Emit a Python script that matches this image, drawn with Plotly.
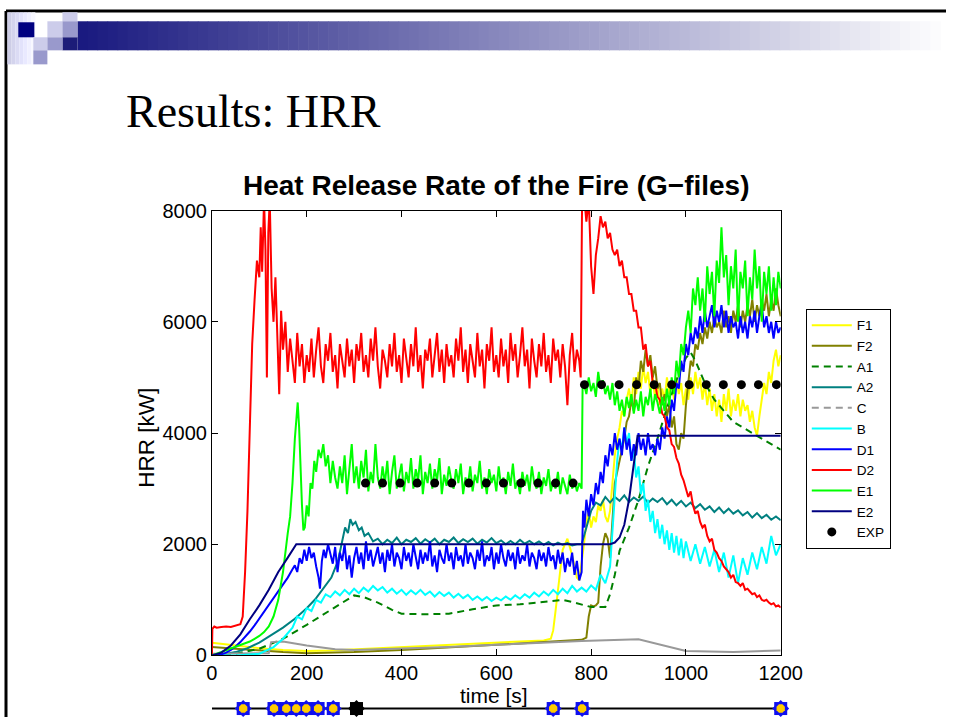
import plotly.graph_objects as go

# ---------------- data ----------------
X_TICKS = [0, 200, 400, 600, 800, 1000, 1200]
Y_TICKS = [0, 2000, 4000, 6000, 8000]

# D2 (red)
D2_T = [0, 1, 5, 10, 20, 30, 40, 50, 60, 65, 70, 75, 80, 85, 90, 95, 100, 103, 106, 110,
        113, 116, 119, 122, 126, 130, 134, 138, 142, 146, 150, 155, 160, 165, 170, 175, 180, 185, 190, 195] \
    + list(range(200, 780, 5)) + [778, 781, 785, 790, 795] + list(range(800, 1205, 5))
D2_V = [0, 480, 520, 500, 510, 520, 510, 540, 560, 700, 1500, 2600, 4200, 5600, 6400, 7100, 6800, 7700, 6900, 8200,
        7300, 5000, 7600, 8200, 6600, 6000, 6800, 5600, 4700, 6200, 5500, 6000, 5100, 5700, 5300, 4900, 5800, 5200, 5600, 4900,
        5400, 5100, 5700, 5000, 5500, 5900, 5200, 4900, 5600, 5300,
        5800, 5100, 5400, 4800, 5600, 5300, 5000, 5700, 5200, 5500,
        4900, 5600, 5300, 5800, 5100, 5400, 5000, 5700, 5300, 5900,
        5200, 4800, 5500, 5300, 5000, 5600, 5200, 5800, 5100, 5400,
        4900, 5700, 5300, 5000, 5600, 5200, 5900, 5100, 5400, 4800,
        5500, 5300, 5700, 5000, 5400, 5800, 5100, 5500, 4900, 5600,
        5200, 5400, 5000, 5700, 5300, 5900, 5100, 5500, 4900, 5600,
        5300, 5000, 5800, 5200, 5500, 4800, 5600, 5300, 5900, 5100,
        5400, 5000, 5700, 5200, 5500, 4900, 5800, 5300, 5600, 5000,
        5400, 5900, 5200, 5500, 4800, 5700, 5300, 5000, 5600, 5200,
        5800, 5100, 5400, 4900, 5700, 5300, 5500, 5000, 5600, 5200,
        4500, 5400, 5800, 5100, 5500, 5300,
        5000, 8200, 8300, 7800, 8200,
        7000,
        6500, 7200, 7500, 7900, 7700, 7800, 7500, 7600, 7300, 7200,
        7300, 7000, 7100, 6800, 6800, 6500, 6500, 6200, 6200, 5900,
        5900, 5500, 5600, 5200, 5300, 4900, 4900, 4650, 4600, 4350,
        4300, 4100, 4050, 3800, 3750, 3550, 3450, 3250, 3150, 3000,
        2850, 2950, 2700, 2550, 2600, 2400, 2300, 2350, 2150, 2050,
        2100, 1900, 1850, 1750, 1700, 1600, 1550, 1500, 1400, 1450,
        1320, 1300, 1250, 1300, 1180, 1200, 1150, 1100, 1120, 1050,
        1080, 1000, 980, 1000, 950, 920, 940, 880, 900, 860]

# E1 (light green)
E1_T = [0, 10, 20, 30, 40, 50, 60, 70, 80, 90, 100, 110, 120, 130, 140, 150, 155, 160, 165, 170, 175,
        178, 181, 184, 187, 190, 193, 196, 200, 204, 208, 212, 216, 220, 225, 230, 235, 240, 245, 250, 255, 260] \
    + list(range(265, 780, 5)) + [780, 782] + list(range(785, 1205, 5))
E1_V = [0, 30, 60, 90, 120, 150, 180, 210, 250, 300, 350, 420, 520, 700, 1000, 1500, 1900, 2200, 2500, 3100, 3900,
        4300, 4550, 4100, 3300, 2700, 2250, 2300, 2700, 2500, 3100, 3000, 3500, 3300, 3700, 3550, 3800, 3400, 3600, 3100, 3500, 3200,
        3000, 3400, 3100, 3600, 2900, 3300, 3800, 3100, 3400, 3000,
        3500, 3200, 3700, 2950, 3300, 3100, 3800, 3200, 3000, 3400,
        3100, 3500, 2900, 3300, 3600, 3000, 3250, 3450, 2950, 3300,
        3100, 3550, 3000, 3350, 3150, 3600, 2900, 3300, 3100, 3450,
        3000, 3350, 3150, 3550, 2900, 3250, 3050, 3400, 3150, 3000,
        3350, 3100, 3450, 2900, 3200, 3050, 3400, 2950, 3250, 3100,
        3500, 3000, 3200, 2900, 3350, 3100, 3250, 2950, 3400, 3050,
        3200, 2900, 3300, 3050, 3450, 3000, 3150, 2900, 3300, 3050,
        3250, 2950, 3400, 3100, 3000, 3300, 2900, 3200, 3050, 3350,
        2950, 3150, 3000, 3300, 2900, 3200, 3050, 2900, 3250, 3000,
        3150, 2950, 3100,
        3000, 4800,
        4900, 4700, 5000, 4750, 4900, 4650, 5100, 4800, 4950, 4700,
        4850, 4600, 4900, 4500, 4750, 4400, 4600, 4300, 4650, 4450,
        4700, 4350, 4600, 4400, 4750, 4300, 4650, 4500, 4800, 4400,
        4700, 4550, 4350, 4650, 4400, 4800, 4500, 5000, 4700, 5300,
        5000, 5600, 5400, 5900, 6200, 5800, 6600, 6300, 6800, 6200,
        6600, 6000, 7000, 6500, 6900, 6100, 7100, 6700, 7700, 6800,
        7200, 6300, 7000, 6600, 7300, 6000, 6900, 6600, 7100, 6100,
        6800, 6400, 7300, 6600, 7000, 6000, 6900, 6500, 7000, 6200,
        6800, 6300, 6900, 6600]

# D1 (blue)
D1_T = [0, 10, 20, 30, 40, 50, 60, 70, 80, 90, 100, 110, 120, 130, 140, 150, 160, 170,
        175, 180, 185, 190, 195, 200, 205, 210, 215, 220, 225, 228, 232, 236, 240, 245, 250] \
    + list(range(255, 780, 5)) + [780, 783, 786, 790, 795] + list(range(800, 1205, 5))
D1_V = [0, 0, 20, 50, 100, 160, 240, 330, 430, 540, 660, 780, 900, 1020, 1150, 1280, 1400, 1550,
        1620, 1500, 1750, 1650, 1900, 1700, 1950, 1750, 1850, 1600, 1400, 1200, 1700, 1900, 1750, 2000, 1800,
        1650, 1950, 1500, 1850, 1700, 2000, 1550, 1800, 1400, 1750,
        1950, 1650, 1850, 1550, 2050, 1700, 1900, 1600, 1800, 1950,
        1650, 1850, 1500, 1900, 1700, 2000, 1600, 1850, 1750, 1550,
        1950, 1700, 1850, 1600, 2000, 1750, 1550, 1900, 1650, 1850,
        1700, 2050, 1600, 1800, 1500, 1900, 1750, 1650, 2000, 1700,
        1850, 1550, 1950, 1700, 1800, 1600, 2000, 1650, 1850, 1750,
        1550, 1900, 1700, 2050, 1600, 1800, 1700, 1950, 1550, 1850,
        1650, 2000, 1750, 1600, 1900, 1700, 1850, 1550, 1950, 1650,
        1800, 1700, 2000, 1600, 1850, 1750, 1550, 1900, 1700, 1850,
        1600, 1950, 1700, 1800, 1550, 1900, 1650, 1850, 1500, 1750,
        1600, 1850, 1450, 1700, 1350,
        1500, 2600, 2300, 2800, 2500,
        2900,
        2700, 3100, 2900, 3300, 3100, 3600, 3400, 3800, 3600, 4000,
        3700, 3900, 3600, 4100, 3700, 3900, 3500, 3800, 3600, 4000,
        3700, 3900, 3600, 4000, 3700, 3800, 3600, 3900, 3700, 4100,
        3900, 4300, 4100, 4600, 4400, 4900, 4800, 5300, 5100, 5600,
        5400, 5800, 5600, 5900, 5700, 6100, 5800, 6200, 5900, 6100,
        6300, 5900, 6200, 6000, 6300, 5900, 6200, 5800, 6100, 5900,
        6000, 5700, 6100, 5800, 6000, 5700, 6100, 5900, 6200, 5800,
        6100, 6300, 5900, 6100, 5800, 6000, 5700, 6000, 5800, 5900]

# F1 (yellow)
F1_T = [0, 50, 100, 150, 200, 250, 300, 400, 500, 600, 700,
        715, 720, 725, 730, 735, 740, 745, 750, 755, 760, 765, 770, 775] + list(range(780, 1205, 5))
F1_V = [230, 180, 130, 100, 80, 90, 110, 150, 190, 230, 270,
        300, 450, 800, 1200, 1600, 1900, 2000, 2100, 1950, 1800, 1600, 1400, 1350,
        1650,
        2000, 2400, 2600, 2300, 2500, 2400, 2700, 2600, 2800, 2500,
        2400, 2600, 3100, 3600, 3900, 4100, 4400, 4300, 4600, 4800,
        4500, 5000, 4700, 5100, 4800, 5200, 4900, 5100, 4700, 5000,
        4600, 4900, 4500, 4800, 4600, 5000, 4700, 4900, 4600, 5000,
        4700, 4900, 4500, 4800, 4600, 5000, 4700, 5100, 4800, 5000,
        4600, 4900, 4500, 4800, 4400, 4700, 4300, 4600, 4200, 4700,
        4400, 4800, 4300, 4600, 4400, 4700, 4300, 4600, 4400, 4500,
        4200, 4400, 4100, 3950, 4300, 4600, 4900, 4700, 5100, 4900,
        5300, 5500, 5200, 5400]

# F2 (olive)
F2_T = [0, 50, 100, 150, 200, 250, 300, 400, 500, 600, 700, 780, 790] + list(range(795, 1205, 5))
F2_V = [150, 120, 80, 60, 40, 50, 60, 100, 140, 190, 240, 280, 320,
        700, 900, 880, 900, 950, 1600, 2000, 2200, 2100, 1750,
        2500, 3100, 3300, 3500, 3700, 3900, 4200, 4300, 4600, 4400,
        5000, 4800, 5300, 5100, 5500, 5200, 5400, 5000, 5200, 4800,
        4900, 4500, 4700, 4300, 4500, 4100, 4300, 3800, 3700, 4000,
        3900, 4500, 4900, 5300, 5200, 5600, 5500, 5800, 5600, 5900,
        5700, 6000, 5800, 6100, 5900, 6000, 5800, 6200, 5900, 6100,
        5800, 6200, 6000, 6300, 5900, 6200, 6000, 6300, 6100, 6400,
        6000, 6300, 6100, 6400, 6200, 6500, 6100, 6400, 6200, 6600,
        6300, 6100]

# A1 (dark green, dashed)
A1_T = [0, 50, 100, 150, 200, 250, 280, 300, 320, 350, 380, 400, 450, 500, 550, 600, 650, 700, 740, 760,
        780, 800, 830, 840, 850, 860, 880, 900, 920, 940, 960, 980, 1000, 1010, 1020, 1040, 1060, 1080, 1100, 1120,
        1140, 1160, 1180, 1200]
A1_V = [0, 30, 120, 300, 550, 820, 980, 1080, 1050, 950, 820, 750, 740, 750, 830, 900, 920, 970, 1000, 960,
        920, 870, 870, 1100, 1450, 1880, 2300, 2800, 3400, 3900, 4450, 4950, 5350, 5450, 5300, 4900, 4600, 4400, 4200, 4100,
        4000, 3900, 3800, 3700]

# A2 (teal)
A2_T = [0, 25, 50, 75, 100, 125, 150, 175, 200, 218, 235, 252, 266, 275, 281, 287, 292, 297, 303,
        310, 316, 322, 330, 340] + list(range(350, 1205, 10))
A2_V = [0, 20, 60, 130, 230, 360, 500, 660, 850, 1010, 1200, 1400, 1700, 2050, 2300, 2200, 2450, 2350, 2400,
        2250, 2300, 2150, 2200, 2050,
        2100, 2000, 2080, 2020, 2120, 2000, 2080, 2040, 2110, 2010,
        2090, 2030, 2100, 2000, 2080, 2040, 2120, 2020, 2090, 2040,
        2100, 2010, 2080, 2030, 2110, 2020, 2070, 2000, 2060, 2000,
        2080, 2010, 2060, 2000, 2050, 1990, 2040, 1980, 2030, 1990,
        2020, 1980, 2000, 2000, 2300, 2600, 2750, 2700, 2850, 2750,
        2850, 2780, 2880, 2760, 2840, 2780, 2860, 2740, 2820, 2760,
        2830, 2720, 2800, 2700, 2780, 2680, 2750, 2650, 2720, 2620,
        2680, 2580, 2660, 2560, 2640, 2550, 2610, 2520, 2580, 2480,
        2560, 2470, 2530, 2440, 2500, 2430]

# C (gray)
C_T = [0, 50, 100, 120, 125, 150, 200, 260, 300, 400, 500, 600, 700, 780, 900, 1000, 1100, 1200]
C_V = [30, 30, 30, 40, 240, 250, 180, 110, 100, 120, 150, 190, 230, 260, 290, 80, 60, 90]

# B (cyan)
B_T = [0, 50, 100, 130, 150, 170, 180] + list(range(190, 850, 10)) + list(range(845, 1005, 5)) \
    + list(range(1010, 1205, 10))
B_V = [0, 0, 30, 150, 300, 500, 700,
       650, 850, 800, 1000, 950, 1100, 1050, 1150, 1080, 1180,
       1100, 1200, 1120, 1220, 1150, 1250, 1170, 1230, 1130, 1200,
       1110, 1180, 1090, 1170, 1100, 1180, 1090, 1150, 1060, 1140,
       1070, 1130, 1040, 1110, 1030, 1090, 1000, 1060, 990, 1050,
       980, 1040, 990, 1060, 1000, 1080, 1020, 1100, 1040, 1130,
       1060, 1150, 1080, 1180, 1100, 1200, 1120, 1250, 1150, 1220,
       1150, 1260, 1180, 1450, 1300, 1600,
       2200, 2800, 3500, 3900, 3700, 4100, 3800, 4000, 3500, 3700,
       3200, 3400, 2900, 3100, 2600, 2800, 2400, 2600, 2200, 2450,
       2100, 2350, 2000, 2250, 1900, 2200, 1850, 2150, 1800, 2100,
       1750, 2050,
       1700, 2000, 1650, 1950, 1600, 1900, 1500, 1850, 1400, 1800,
       1300, 1750, 1450, 1850, 1550, 1950, 1650, 2150, 1800, 2000]

# E2 (navy)
E2_T = [0, 20, 40, 60, 80, 100, 120, 140, 160, 178, 840, 850, 860, 870, 880, 890, 898, 1200]
E2_V = [0, 50, 180, 380, 650, 900, 1180, 1500, 1760, 2000, 2000, 2030, 2120, 2350, 2800, 3450, 3950, 3950]

# EXP (black dots)
EXP_T = [324, 360, 397, 433, 470, 506, 542, 579, 615, 652, 688, 725, 762,
         786, 822, 859, 896, 933, 970, 1007, 1043, 1079, 1117, 1153, 1191]
EXP_V = [3100, 3100, 3100, 3100, 3100, 3100, 3100, 3100, 3100, 3100, 3100, 3100, 3100,
         4870, 4870, 4870, 4870, 4870, 4870, 4870, 4870, 4870, 4870, 4870, 4870]

# timeline events
EVENT_T = [66, 131, 157, 178, 199, 224, 256, 720, 781, 1200]
BLACK_EVENT_T = [305]

# ---------------- figure ----------------
# empirical page -> picture mapping: picture = S * (figure + M) + C
S, M, CX, CY = 0.968, 8, 1.0, 2.0
W, H = 968, 728
FONT = "Liberation Sans, Arial, Helvetica, sans-serif"


def PX(p):  # target picture x pixel -> paper fraction
    return ((p - CX) / S - M) / W


def PY(p):  # target picture y pixel -> paper fraction
    return 1 - ((p - CY) / S - M) / H


X0, X1 = 214, 781
YT, YB = 209, 653


def pair(t, v):
    n = min(len(t), len(v))
    return t[:n], v[:n]


fig = go.Figure()


def add_line(name, t, v, color, dash=None, show=True):
    t, v = pair(t, v)
    fig.add_trace(go.Scatter(x=t, y=v, mode="lines", name=name, showlegend=show,
                             line=dict(color=color, width=2, dash=dash)))


add_line("F1", F1_T, F1_V, "#ffff00")
add_line("F2", F2_T, F2_V, "#808000")
add_line("A1", A1_T, A1_V, "#008000", dash="7px,5px")
add_line("A2", A2_T, A2_V, "#008080")
fig.add_trace(go.Scatter(x=[None], y=[None], mode="lines", name="C",
                         line=dict(color="#999999", width=2, dash="7px,5px")))
add_line("C", C_T, C_V, "#999999", show=False)
add_line("B", B_T, B_V, "#00ffff")
add_line("D1", D1_T, D1_V, "#0000ff")
add_line("D2", D2_T, D2_V, "#ff0000")
add_line("E1", E1_T, E1_V, "#00ff00")
add_line("E2", E2_T, E2_V, "#000080")
fig.add_trace(go.Scatter(x=EXP_T, y=EXP_V, mode="markers", name="EXP",
                         marker=dict(color="black", size=9)))

# timeline
fig.add_trace(go.Scatter(x=[0, 1200], y=[0, 0], mode="lines", xaxis="x2", yaxis="y2",
                         showlegend=False, line=dict(color="black", width=2), cliponaxis=False))
ev_y = [0 for _ in EVENT_T]
for sym in ["square", "diamond"]:
    fig.add_trace(go.Scatter(x=EVENT_T, y=ev_y, mode="markers", xaxis="x2", yaxis="y2",
                             showlegend=False, cliponaxis=False,
                             marker=dict(symbol=sym, size=13, color="#1010ee", line=dict(width=0))))
fig.add_trace(go.Scatter(x=EVENT_T, y=ev_y, mode="markers", xaxis="x2", yaxis="y2",
                         showlegend=False, cliponaxis=False,
                         marker=dict(symbol="octagon", size=9, color="#ffcc00", line=dict(width=0))))
bk_y = [0 for _ in BLACK_EVENT_T]
for sym in ["square", "diamond"]:
    fig.add_trace(go.Scatter(x=BLACK_EVENT_T, y=bk_y, mode="markers", xaxis="x2", yaxis="y2",
                             showlegend=False, cliponaxis=False,
                             marker=dict(symbol=sym, size=13, color="black", line=dict(width=0))))

axis_common = dict(showline=True, linecolor="black", linewidth=1, mirror="allticks",
                   ticks="inside", ticklen=6, tickcolor="black", showgrid=False, zeroline=False,
                   tickfont=dict(family=FONT, size=20, color="black"))

shapes = []
# slide border (top and left)
shapes.append(dict(type="line", xref="paper", yref="paper", x0=0, x1=1, y0=1, y1=1,
                   line=dict(color="black", width=3)))
shapes.append(dict(type="line", xref="paper", yref="paper", x0=0, x1=0, y0=1, y1=0,
                   line=dict(color="black", width=3)))


def rect(x0, y0, x1, y1, color):
    shapes.append(dict(type="rect", xref="paper", yref="paper", x0=max(0, PX(x0)), x1=PX(x1),
                       y0=PY(y1), y1=min(1, PY(y0)), fillcolor=color, line=dict(width=0), layer="above"))


# left faint gradient
for i in range(7):
    f = i / 7
    c = int(205 + (255 - 205) * f)
    rect(10 + 4 * i, 11, 14 + 4 * i, 63, f"rgb({c},{c},{min(255, c + 25)})")

# gradient bar
x = 80
step = 10
while x < 940:
    f = (x - 80) / (940 - 80)
    r = int(26 + (255 - 26) * f)
    b = int(128 + (255 - 128) * f)
    rect(x, 20, x + step + 0.6, 49, f"rgb({r},{r},{b})")
    x += step

LAV = "#ccccea"
MED = "#9999cc"
rect(21, 21, 37, 36, "#000080")
rect(65, 11, 80, 20, LAV)
rect(50, 20, 65, 36, LAV)
rect(65, 20, 80, 36, MED)
rect(65, 36, 80, 49, "#1c1c78")
rect(36, 36, 50, 49, LAV)
rect(50, 36, 65, 49, MED)
rect(36, 49, 50, 63, MED)

annotations = [
    dict(text="Results: HRR", xref="paper", yref="paper", x=PX(126), y=PY(110),
         xanchor="left", yanchor="middle", showarrow=False,
         font=dict(family="Liberation Serif, Times New Roman, serif", size=46, color="black")),
    dict(text="Heat Release Rate of the Fire (G\u2212files)", xref="paper", yref="paper",
         x=PX(498), y=PY(184), xanchor="center", yanchor="middle", showarrow=False,
         font=dict(family=FONT, size=28, color="black", weight="bold")),
    dict(text="HRR [kW]", xref="paper", yref="paper", x=PX(148), y=PY(436), textangle=-90,
         xanchor="center", yanchor="middle", showarrow=False,
         font=dict(family=FONT, size=22.5, color="black")),
    dict(text="time [s]", xref="paper", yref="paper", x=PX(495), y=PY(693),
         xanchor="center", yanchor="middle", showarrow=False,
         font=dict(family=FONT, size=21, color="black")),
]

fig.update_layout(
    width=W, height=H, margin=dict(l=0, r=0, t=0, b=0),
    paper_bgcolor="white", plot_bgcolor="white",
    xaxis=dict(domain=[PX(X0), PX(X1)], range=[0, 1200], tickvals=X_TICKS, anchor="y", **axis_common),
    yaxis=dict(domain=[PY(YB), PY(YT)], range=[0, 8000], tickvals=Y_TICKS, anchor="x", **axis_common),
    xaxis2=dict(domain=[PX(X0), PX(X1)], range=[0, 1200], visible=False, anchor="y2"),
    yaxis2=dict(domain=[PY(714), PY(698)], range=[-1, 1], visible=False, anchor="x2"),
    legend=dict(x=PX(806), y=PY(307), xanchor="left", yanchor="top",
                bgcolor="white", bordercolor="black", borderwidth=1, itemwidth=40,
                font=dict(family=FONT, size=13.6, color="black"), tracegroupgap=0),
    shapes=shapes, annotations=annotations,
)

fig.write_html("out.html")
